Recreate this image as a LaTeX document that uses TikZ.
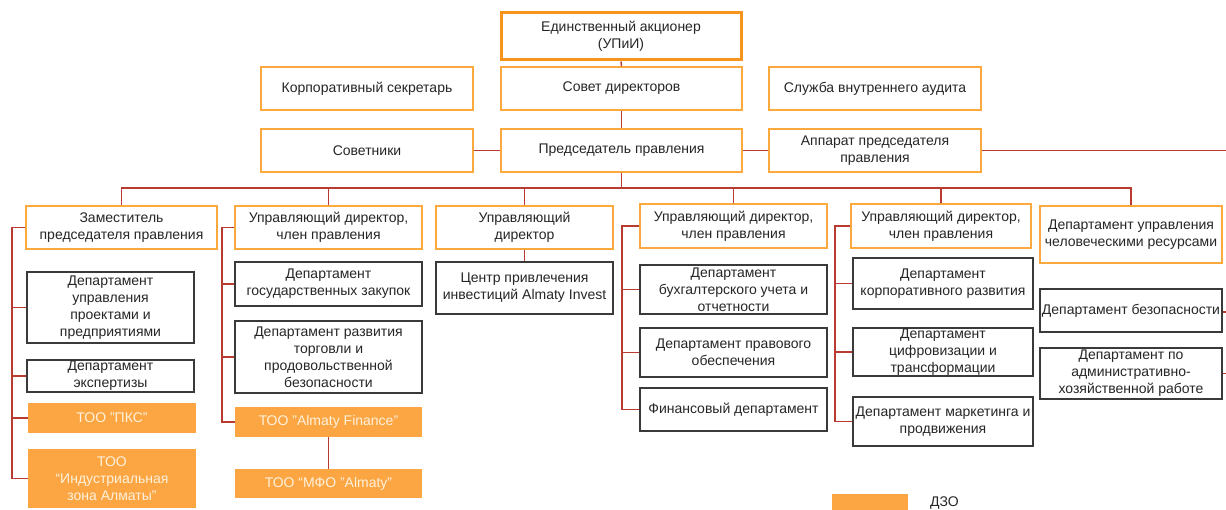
\documentclass[tikz,border=0pt]{standalone}
\usepackage{fontspec}
\setmainfont{Liberation Sans}
\usetikzlibrary{calc}

\definecolor{ornline}{HTML}{FBA83C}
\definecolor{orntop}{HTML}{F7941D}
\definecolor{ornfill}{HTML}{FBA643}
\definecolor{redline}{HTML}{B83A30}
\definecolor{greyline}{HTML}{3A3A3A}
\definecolor{txtdark}{HTML}{262626}
\definecolor{txtlight}{HTML}{FFF1DC}

\tikzset{
	orgbox/.style={align=center, inner sep=0pt, text=txtdark, font=\fontsize{14}{17}\selectfont},
	unit/.style={orgbox, draw=ornline, line width=1.4pt, fill=white},
	owner/.style={orgbox, draw=orntop, line width=3pt, fill=white},
	dept/.style={orgbox, draw=greyline, line width=1.3pt, fill=white},
	dzo/.style={orgbox, fill=ornfill, text=txtlight},
	link/.style={draw=redline, line width=1.4pt}
}

\begin{document}
\begin{tikzpicture}[x=1pt, y=-1pt]
			%%%%% START %%%%%
			\useasboundingbox (0, 0) rectangle (1226, 510);
			
			% top levels
			\node[owner, minimum width=240, minimum height=47] (owner) at (621, 36.5) {Единственный акционер\\(УПиИ)};
			\node[unit, minimum width=212, minimum height=43] (secr) at (367, 88.5) {Корпоративный секретарь};
			\node[unit, minimum width=241, minimum height=43] (board) at (621.5, 88.5) {Совет директоров};
			\node[unit, minimum width=212, minimum height=43] (audit) at (875, 88.5) {Служба внутреннего аудита};
			\node[unit, minimum width=212, minimum height=43] (advis) at (367, 150.5) {Советники};
			\node[unit, minimum width=241, minimum height=43] (chair) at (621.5, 150.5) {Председатель правления};
			\node[unit, minimum width=212, minimum height=43] (office) at (875, 150.5) {Аппарат председателя\\правления};
			
			\coordinate (edgeA) at (1226, 150.5);
			\coordinate (bus) at (621.5, 188);
			
			\draw[link] (owner.south) -- (board.north);
			\draw[link] (board.south) -- (chair.north);
			\draw[link] (advis.east) -- (chair.west);
			\draw[link] (chair.east) -- (office.west);
			\draw[link] (office.east) -- (edgeA);
			\draw[link] (chair.south) -- (bus);
			
			% heads
			\node[unit, minimum width=191, minimum height=43] (dep) at (121.5, 227.5) {Заместитель\\председателя правления};
			\node[unit, minimum width=187, minimum height=43] (md1) at (328.5, 227.5) {Управляющий директор,\\член правления};
			\node[unit, minimum width=177, minimum height=43] (md2) at (524.5, 227.5) {Управляющий\\директор};
			\node[unit, minimum width=187, minimum height=44] (md3) at (733.5, 226) {Управляющий директор,\\член правления};
			\node[unit, minimum width=180, minimum height=44] (md4) at (941, 226) {Управляющий директор,\\член правления};
			\node[unit, minimum width=182, minimum height=57] (hr) at (1131, 234.5) {Департамент управления\\человеческими ресурсами};
			
			\draw[link] (dep.north) |- (bus);
			\draw[link] (md1.north) |- (bus);
			\draw[link] (md2.north) |- (bus);
			\draw[link] (md3.north) |- (bus);
			\draw[link] (md4.north) |- (bus);
			\draw[link] (hr.north) |- (bus);
			
			% column 1
			\node[dept, minimum width=167, minimum height=71] (proj) at (110.5, 307.5) {Департамент\\управления\\проектами и\\предприятиями};
			\node[dept, minimum width=167, minimum height=32] (expert) at (110.5, 376) {Департамент\\экспертизы};
			\node[dzo, minimum width=168, minimum height=30] (pks) at (112, 418) {ТОО "ПКС"};
			\node[dzo, minimum width=168, minimum height=59] (indz) at (112, 478.5) {ТОО\\“Индустриальная\\зона Алматы"};
			
			\coordinate (trA) at (12, 227.5);
			\draw[link] (dep.west) -- (trA) |- (indz.west);
			\draw[link] (trA |- proj.west) -- (proj.west);
			\draw[link] (trA |- expert.west) -- (expert.west);
			\draw[link] (trA |- pks.west) -- (pks.west);
			
			% column 2
			\node[dept, minimum width=187, minimum height=44] (procur) at (328.5, 284) {Департамент\\государственных закупок};
			\node[dept, minimum width=187, minimum height=72] (trade) at (328.5, 357) {Департамент развития\\торговли и\\продовольственной\\безопасности};
			\node[dzo, minimum width=187, minimum height=30] (fin) at (328.5, 422) {ТОО "Almaty Finance"};
			\node[dzo, minimum width=187, minimum height=29] (mfo) at (328.5, 483.5) {ТОО “МФО "Almaty”};
			
			\coordinate (trB) at (222, 227.5);
			\draw[link] (md1.west) -- (trB) |- (fin.west);
			\draw[link] (trB |- procur.west) -- (procur.west);
			\draw[link] (trB |- trade.west) -- (trade.west);
			\draw[link] (fin.south) -- (mfo.north);
			
			% column 3
			\node[dept, minimum width=177, minimum height=52] (invest) at (524.5, 288) {Центр привлечения\\инвестиций Almaty Invest};
			\draw[link] (md2.south) -- (invest.north);
			
			% column 4
			\node[dept, minimum width=187, minimum height=49] (acc) at (733.5, 289.5) {Департамент\\бухгалтерского учета и\\отчетности};
			\node[dept, minimum width=187, minimum height=49] (legal) at (733.5, 352.5) {Департамент правового\\обеспечения};
			\node[dept, minimum width=187, minimum height=43] (finance) at (733.5, 409.5) {Финансовый департамент};
			
			\coordinate (trC) at (622, 226);
			\draw[link] (md3.west) -- (trC) |- (finance.west);
			\draw[link] (trC |- acc.west) -- (acc.west);
			\draw[link] (trC |- legal.west) -- (legal.west);
			
			% column 5
			\node[dept, minimum width=180, minimum height=51] (corp) at (943, 283.5) {Департамент\\корпоративного развития};
			\node[dept, minimum width=180, minimum height=48] (digit) at (943, 352) {Департамент\\цифровизации и\\трансформации};
			\node[dept, minimum width=180, minimum height=49] (market) at (943, 421.5) {Департамент маркетинга и\\продвижения};
			
			\coordinate (trD) at (835, 226);
			\draw[link] (md4.west) -- (trD) |- (market.west);
			\draw[link] (trD |- corp.west) -- (corp.west);
			\draw[link] (trD |- digit.west) -- (digit.west);
			
			% column 6
			\node[dept, minimum width=182, minimum height=43] (secur) at (1131, 310.5) {Департамент безопасности};
			\node[dept, minimum width=182, minimum height=51] (admin) at (1131, 373.5) {Департамент по\\административно-\\хозяйственной работе};
			
			\coordinate (edgeB) at (1226, 312);
			\coordinate (edgeC) at (1226, 373.5);
			\draw[link] (secur.east |- edgeB) -- (edgeB);
			\draw[link] (admin.east) -- (edgeC);
			
			% legend
			\node[dzo, minimum width=76, minimum height=20] (legbox) at (870, 504) {};
			\node[orgbox, anchor=west] (legtext) at (930, 503) {ДЗО};
			%%%%% END %%%%%
		\end{tikzpicture}
\end{document}
